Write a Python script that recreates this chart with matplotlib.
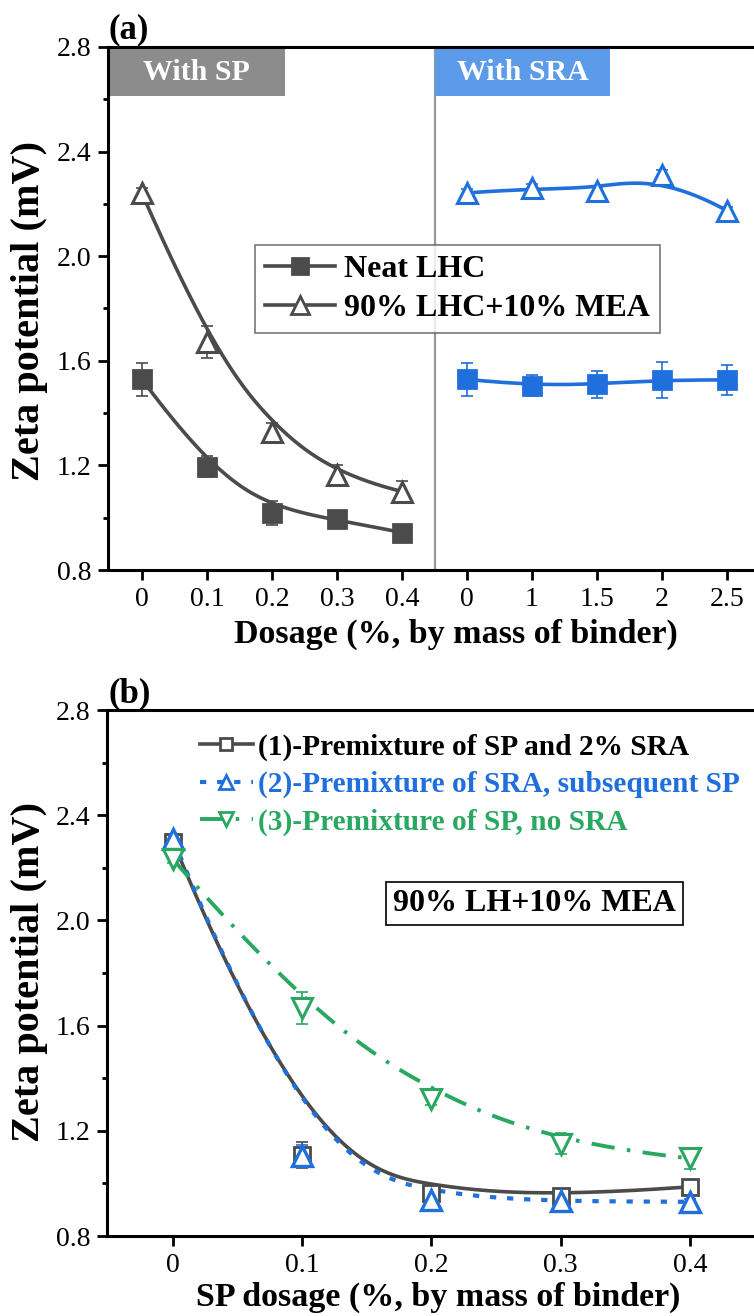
import numpy as np
import matplotlib
matplotlib.use("Agg")
import matplotlib.pyplot as plt
from matplotlib.patches import Rectangle
from matplotlib.lines import Line2D
from matplotlib.ticker import MultipleLocator, FixedLocator, FormatStrFormatter

plt.rcParams['font.family'] = ['Liberation Serif', 'DejaVu Serif']

# ---------------- data ----------------
sp_dosage = [0, 0.1, 0.2, 0.3, 0.4]
sra_dosage = [0, 1, 1.5, 2, 2.5]

# panel (a) - with SP
neat_sp = [1.529, 1.195, 1.019, 0.994, 0.943]
neat_sp_err = [0.064, 0.040, 0.046, 0.012, 0.008]
mea_sp = [2.240, 1.673, 1.329, 1.163, 1.100]
mea_sp_err = [0.020, 0.061, 0.032, 0.040, 0.041]
# panel (a) - with SRA
neat_sra = [1.529, 1.505, 1.510, 1.527, 1.527]
neat_sra_err = [0.064, 0.040, 0.051, 0.069, 0.057]
mea_sra = [2.242, 2.260, 2.250, 2.310, 2.174]
mea_sra_err = [0.015, 0.015, 0.015, 0.020, 0.015]

# panel (b)
b_x = [0, 0.1, 0.2, 0.3, 0.4]
case1 = [2.300, 1.108, 0.965, 0.952, 0.987]
case1_err = [0.020, 0.050, 0.030, 0.015, 0.010]
case2 = [2.310, 1.105, 0.935, 0.932, 0.930]
case2_err = [0.020, 0.040, 0.015, 0.010, 0.010]
case3 = [2.232, 1.667, 1.320, 1.150, 1.095]
case3_err = [0.015, 0.062, 0.020, 0.040, 0.040]

labels_a = ["Neat LHC", "90% LHC+10% MEA"]
labels_b = ["(1)-Premixture of SP and 2% SRA",
            "(2)-Premixture of SRA, subsequent SP",
            "(3)-Premixture of SP, no SRA"]

GRAY = "#4b4b4b"
BLUE = "#1f6fdc"
GREEN = "#2aa862"


def bspline(xs, ys, num=300, k=3):
    P = np.column_stack([xs, ys]).astype(float)
    n = len(P)
    k = min(k, n - 1)
    t = np.concatenate([np.zeros(k), np.linspace(0, 1, n - k + 1), np.ones(k)])
    u = np.linspace(0, 1, num)
    u[-1] -= 1e-9

    def N(i, p, uu):
        if p == 0:
            return np.where((t[i] <= uu) & (uu < t[i + 1]), 1.0, 0.0)
        a = 0.0
        b = 0.0
        if t[i + p] != t[i]:
            a = (uu - t[i]) / (t[i + p] - t[i]) * N(i, p - 1, uu)
        if t[i + p + 1] != t[i + 1]:
            b = (t[i + p + 1] - uu) / (t[i + p + 1] - t[i + 1]) * N(i + 1, p - 1, uu)
        return a + b

    B = np.array([N(i, k, u) for i in range(n)])
    C = B.T @ P
    return C[:, 0], C[:, 1]


W, H = 754, 1316
fig = plt.figure(figsize=(W / 100, H / 100), dpi=100)

TICK_FS = 20
XLABEL_FS = 24.5
YLABEL_FS = 29
LW = 2.6

DOT = (0, (1.5, 2.6))
DASHDOT = (0, (6, 3.2, 0.9, 3.2))


def series(ax, x, y, err, color, marker, mfc, ms, lw=LW, ls='-', mew=2.0, elw=1.2):
    cx, cy = bspline(x, y)
    ax.plot(cx, cy, color=color, lw=lw, ls=ls, zorder=2)
    ax.errorbar(x, y, yerr=err, fmt='none', ecolor=color, elinewidth=elw,
                capsize=4, capthick=elw, zorder=3)
    ax.plot(x, y, ls='none', marker=marker, ms=ms, mfc=mfc, mec=color, mew=mew, zorder=4)


# ---------------- panel (a) ----------------
axa = fig.add_axes([108 / W, 1 - 570 / H, (764 - 108) / W, 523 / H])
pos_sp = np.arange(len(sp_dosage))
pos_sra = np.arange(len(sra_dosage)) + len(sp_dosage)

series(axa, pos_sp, neat_sp, neat_sp_err, GRAY, 's', GRAY, 13)
series(axa, pos_sp, mea_sp, mea_sp_err, GRAY, '^', 'white', 15, mew=2.2)
series(axa, pos_sra, neat_sra, neat_sra_err, BLUE, 's', BLUE, 13)
series(axa, pos_sra, mea_sra, mea_sra_err, BLUE, '^', 'white', 15, mew=2.2)

axa.axvline(len(sp_dosage) - 0.5, color="#999999", lw=1.6, zorder=1)

axa.set_xlim(-0.523, 9.569)
axa.set_ylim(0.8, 2.8)
axa.set_xticks(np.concatenate([pos_sp, pos_sra]))
axa.set_xticklabels([f"{v:g}" for v in sp_dosage] + [f"{v:g}" for v in sra_dosage])

# header boxes
axa.add_patch(Rectangle((0, 0.906), 0.27, 0.091, transform=axa.transAxes,
                        facecolor="#8c8c8c", edgecolor='none', zorder=1))
axa.text(0.135, 0.951, "With SP", transform=axa.transAxes, ha='center', va='center',
         color='white', fontsize=21.5, fontweight='bold', zorder=2)
axa.add_patch(Rectangle((0.499, 0.906), 0.267, 0.091, transform=axa.transAxes,
                        facecolor="#5b9bea", edgecolor='none', zorder=1))
axa.text(0.6325, 0.951, "With SRA", transform=axa.transAxes, ha='center', va='center',
         color='white', fontsize=21.5, fontweight='bold', zorder=2)

ha1 = Line2D([], [], color=GRAY, lw=LW, marker='s', ms=11, mfc=GRAY, mec=GRAY, mew=2)
ha2 = Line2D([], [], color=GRAY, lw=LW, marker='^', ms=13, mfc='white', mec=GRAY, mew=2)
lega = axa.legend([ha1, ha2], labels_a, loc='upper left', bbox_to_anchor=(0.224, 0.621),
                  borderaxespad=0, frameon=True, fancybox=False, edgecolor="#555555",
                  prop={'size': 23, 'weight': 'bold'}, handlelength=2.2, handletextpad=0.3,
                  borderpad=0.3, labelspacing=0.3)
lega.get_frame().set_linewidth(1.2)

fig.text(108 / W, 1 - 38 / H, "(a)", fontsize=25, fontweight='bold', ha='left', va='baseline')
fig.text(456 / W, 1 - 643 / H, "Dosage (%, by mass of binder)", fontsize=XLABEL_FS,
         fontweight='bold', ha='center', va='baseline')
fig.text(30 / W, 1 - 311 / H, "Zeta potential (mV)", fontsize=YLABEL_FS, fontweight='bold',
         ha='center', va='center', rotation=90)

# ---------------- panel (b) ----------------
axb = fig.add_axes([107 / W, 1 - 1236 / H, 657 / W, 526 / H])
series(axb, b_x, case1, case1_err, GRAY, 's', 'white', 11, lw=2.6)
series(axb, b_x, case2, case2_err, BLUE, '^', 'white', 14, ls=DOT, lw=3.0, mew=2.4)
series(axb, b_x, case3, case3_err, GREEN, 'v', 'white', 14, ls=DASHDOT, lw=2.8, mew=2.2)

axb.set_xlim(-0.0511, 0.4573)
axb.set_ylim(0.8, 2.8)
axb.set_xticks(b_x)
axb.set_xticklabels([f"{v:g}" for v in b_x])

hb1 = Line2D([], [], color=GRAY, lw=2.6, marker='s', ms=8, mfc='white', mec=GRAY, mew=2)
hb2 = Line2D([], [], color=BLUE, lw=3.0, ls=DOT, marker='^', ms=10, mfc='white', mec=BLUE, mew=2)
hb3 = Line2D([], [], color=GREEN, lw=2.8, ls=DASHDOT, marker='v', ms=10, mfc='white', mec=GREEN, mew=2)
legb = axb.legend([hb1, hb2, hb3], labels_b, loc='upper left', bbox_to_anchor=(0.123, 0.978),
                  borderaxespad=0, frameon=False, prop={'size': 21.2, 'weight': 'bold'},
                  handlelength=1.8, handletextpad=0.2, labelspacing=0.35)
for txt, c in zip(legb.get_texts(), ['black', BLUE, GREEN]):
    txt.set_color(c)

axb.text(0.65, 0.633, "90% LH+10% MEA", transform=axb.transAxes, ha='center', va='center',
         fontsize=23, fontweight='bold',
         bbox=dict(boxstyle='square,pad=0.22', facecolor='white', edgecolor='black', lw=1.2))

fig.text(108 / W, 1 - 702 / H, "(b)", fontsize=25, fontweight='bold', ha='left', va='baseline')
fig.text(438 / W, 1 - 1306 / H, "SP dosage (%, by mass of binder)", fontsize=XLABEL_FS,
         fontweight='bold', ha='center', va='baseline')
fig.text(30 / W, 1 - 972 / H, "Zeta potential (mV)", fontsize=YLABEL_FS, fontweight='bold',
         ha='center', va='center', rotation=90)

for ax in (axa, axb):
    ax.yaxis.set_major_locator(FixedLocator([0.8, 1.2, 1.6, 2.0, 2.4, 2.8]))
    ax.yaxis.set_minor_locator(MultipleLocator(0.2))
    ax.yaxis.set_major_formatter(FormatStrFormatter('%.1f'))
    for s in ('left', 'bottom', 'top'):
        ax.spines[s].set_linewidth(2.2)
    ax.spines['right'].set_visible(False)
    ax.tick_params(axis='both', which='major', direction='out', length=7, width=2.0,
                   labelsize=TICK_FS, pad=5)
    ax.tick_params(axis='y', which='minor', direction='out', length=3.5, width=2.0)
    ax.tick_params(axis='x', which='minor', length=0)

fig.savefig("out.png", dpi=100)
